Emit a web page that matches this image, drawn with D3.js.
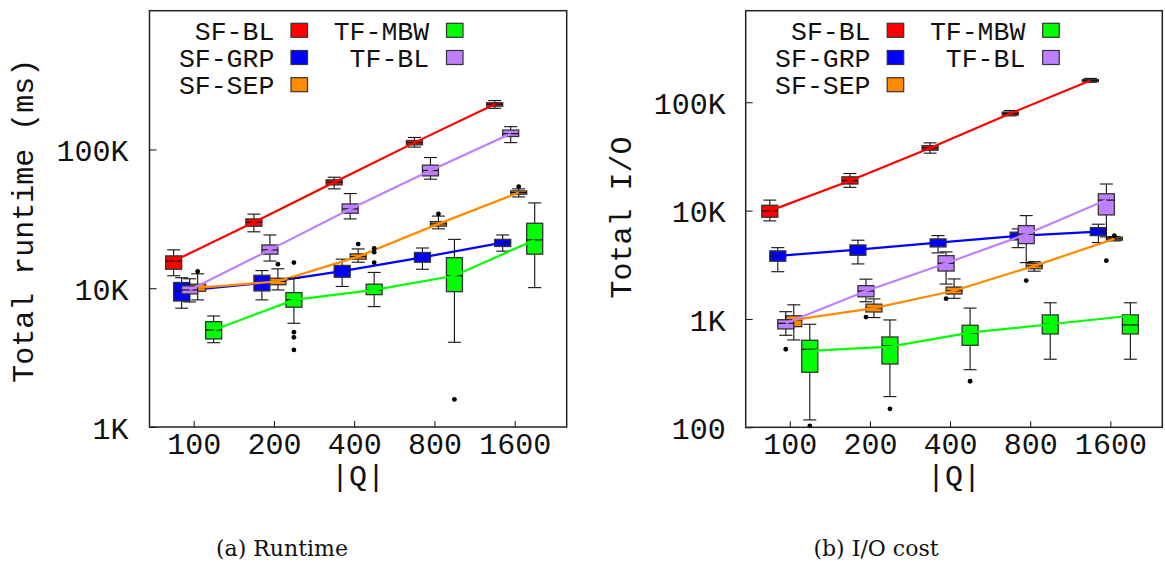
<!DOCTYPE html>
<html><head><meta charset="utf-8">
<script src="https://cdn.jsdelivr.net/npm/d3@7"></script>
<style>body{margin:0;background:#fff}</style>
</head><body><svg id="c" width="1165" height="567"></svg>
<script>
// ---------- data ----------
const categories = [100, 200, 400, 800, 1600];
const seriesNames = ["SF-BL", "SF-GRP", "SF-SEP", "TF-MBW", "TF-BL"];
const seriesColors = ["#ff0000", "#0000ff", "#ff8c00", "#00ff00", "#bf80ff"];

// Runtime (ms): [whiskerLow, q1, median, q3, whiskerHigh] per |Q|
const rtSFBL  = [[12300,13700,15700,17100,18900],[25500,28000,29900,31600,34200],[52000,55600,58100,60400,63100],[104000,108000,112000,116000,122000],[198000,205000,212000,217000,225000]];
const rtSFGRP = [[7180,8090,9560,11000,11900],[8240,9560,10900,12400,13400],[10300,12000,13300,14600,16200],[13700,15400,16700,18100,19500],[18500,20000,21300,22500,24200]];
const rtSFSEP = [[8240,9510,10050,10700,12700],[9720,10600,11200,11800,13800],[15400,16200,16900,17700,19200],[26800,28000,29100,30200,33100],[45500,47600,48900,50300,52000]];
const rtTFMBW = [[4050,4310,5000,5740,6310],[5590,7300,8240,9300,11800],[7370,8990,9720,10700,13000],[4080,9450,12300,16600,22500],[10100,17600,22300,29400,41200]];
const rtTFBL  = [[7960,9100,9720,10400,11700],[15700,17600,18900,20500,24200],[31600,34700,37300,40500,48100],[61100,64500,70500,77100,87500],[112000,124000,130000,138000,146000]];
const rtOutliers = [["SF-SEP",100,13200],["SF-SEP",200,14900],["SF-SEP",400,20800],["SF-SEP",800,34300],["SF-SEP",1600,54000],
  ["TF-MBW",200,15300],["TF-MBW",200,4820],["TF-MBW",200,4430],["TF-MBW",200,3590],
  ["TF-MBW",400,19400],["TF-MBW",400,18200],["TF-MBW",400,15300],["TF-MBW",800,1580]];

// Total I/O
const ioSFBL  = [[8040,8690,9940,11200,12500],[16400,17600,18900,20500,22000],[33900,36100,37900,39800,42200],[74900,76100,78700,81100,83800],[153000,155000,159000,162000,166000]];
const ioSFGRP = [[2730,3410,3820,4250,4550],[3220,3870,4360,4820,5330],[4070,4620,5060,5480,5880],[4550,5360,5840,6320,6780],[5070,5880,6400,6970,7490]];
const ioSFSEP = [[640,849,979,1070,1350],[1030,1160,1260,1370,1530],[1550,1700,1820,1970,2340],[2760,2910,3090,3270,3380],[5250,5330,5480,5680,5750]];
const ioTFMBW = [[117,322,525,636,893],[192,384,567,682,979],[340,571,738,875,1260],[425,727,893,1090,1410],[425,727,881,1090,1410]];
const ioTFBL  = [[707,809,912,985,1167],[1440,1600,1810,2030,2330],[2100,2770,3270,3840,4160],[3310,4960,6050,7270,8990],[5720,9120,12500,14300,17600]];
const ioTFMBWLine = [507, 555, 747, 893, 1070];
const ioOutliers = [["TF-BL",100,525],["TF-BL",200,1040],["TF-BL",400,1540],["TF-BL",800,2260],["TF-BL",1600,3450],
  ["SF-SEP",1600,5880],["TF-MBW",100,103],["TF-MBW",200,148],["TF-MBW",400,266]];

const rtTicks = [1000, 10000, 100000];
const rtTickLabels = ["1K", "10K", "100K"];
const ioTicks = [100, 1000, 10000, 100000];
const ioTickLabels = ["100", "1K", "10K", "100K"];

// ---------- drawing ----------
const svg = d3.select("#c");
const MONO = "'Liberation Mono', 'Courier New', monospace";
const offsets = [-20, -12, 4, 20, -4];

function panel(cfg) {
  const {L, R, T, B} = cfg;
  const g = svg.append("g");
  const x = d3.scaleLog().base(2).domain([68.3, 2507]).range([L, R]);
  const y = d3.scaleLog().domain(cfg.yDomain).range([B, T]);

  // y axis
  g.append("g").attr("transform", `translate(${L},0)`)
    .call(d3.axisLeft(y).tickValues(cfg.ticks).tickFormat((d, i) => cfg.tickLabels[i])
      .tickSizeInner(-7).tickSizeOuter(0).tickPadding(cfg.ypad))
    .call(a => {
      a.select(".domain").remove();
      a.attr("font-family", MONO).attr("font-size", 30).attr("color", "#111");
      a.selectAll("text").attr("dy", "0.37em");
    });
  // x axis
  g.append("g").attr("transform", `translate(0,${B})`)
    .call(d3.axisBottom(x).tickValues(categories).tickFormat(d3.format("d"))
      .tickSizeInner(-6).tickSizeOuter(0))
    .call(a => {
      a.select(".domain").remove();
      a.attr("font-family", MONO).attr("font-size", 30).attr("color", "#111");
      a.selectAll("text").attr("y", 27).attr("dy", 0);
    });

  // series
  cfg.stats.forEach((st, si) => {
    const col = seriesColors[si], off = offsets[si];
    const cx = i => x(categories[i]) + off;
    const sg = g.append("g");
    st.forEach((s, i) => {
      const c = cx(i);
      sg.append("line").attr("x1", c).attr("x2", c).attr("y1", y(s[0])).attr("y2", y(s[4]))
        .attr("stroke", "#111").attr("stroke-width", 1.1);
      [s[0], s[4]].forEach(v => sg.append("line").attr("x1", c - 6.5).attr("x2", c + 6.5)
        .attr("y1", y(v)).attr("y2", y(v)).attr("stroke", "#111").attr("stroke-width", 1.1));
      sg.append("rect").attr("x", c - 8).attr("width", 16)
        .attr("y", y(s[3])).attr("height", Math.max(1, y(s[1]) - y(s[3])))
        .attr("fill", col).attr("stroke", "#333").attr("stroke-width", 1.3);
      sg.append("line").attr("x1", c - 8).attr("x2", c + 8).attr("y1", y(s[2])).attr("y2", y(s[2]))
        .attr("stroke", "#111").attr("stroke-width", 1.2);
    });
    const lv = (cfg.lines && cfg.lines[si]) || st.map(s => s[2]);
    sg.append("path").datum(lv)
      .attr("d", d3.line().x((v, i) => cx(i)).y(v => y(v)))
      .attr("fill", "none").attr("stroke", col).attr("stroke-width", 2.2);
    cfg.outliers.filter(o => o[0] === seriesNames[si]).forEach(o => {
      sg.append("circle").attr("cx", x(o[1]) + off).attr("cy", y(o[2])).attr("r", 2.4).attr("fill", "#000");
    });
  });

  // frame
  g.append("rect").attr("x", L).attr("y", T).attr("width", R - L).attr("height", B - T)
    .attr("fill", "none").attr("stroke", "#222").attr("stroke-width", 1.5);

  // legend
  seriesNames.forEach((n, si) => {
    const colIdx = si < 3 ? 0 : 1, row = si < 3 ? si : si - 3;
    const textEnd = L + (colIdx === 0 ? 124.8 : 279.6);
    const sx = L + (colIdx === 0 ? 141.5 : 297);
    const sy = 23.3 + row * 27.2;
    g.append("text").attr("x", textEnd).attr("y", sy + 16.5).attr("text-anchor", "end")
      .attr("font-family", MONO).attr("font-size", 26.5).attr("fill", "#111").text(n);
    g.append("rect").attr("x", sx).attr("y", sy).attr("width", 16.5).attr("height", 14)
      .attr("fill", seriesColors[si]).attr("stroke", "#333").attr("stroke-width", 1.2);
  });

  // axis titles
  g.append("text").attr("transform", `translate(${cfg.ylabX},${cfg.ylabY}) rotate(-90)`)
    .attr("text-anchor", "middle").attr("font-family", MONO).attr("font-size", 30).attr("fill", "#111")
    .text(cfg.ylabel);
  g.append("text").attr("x", (L + R) / 2).attr("y", 486).attr("text-anchor", "middle")
    .attr("font-family", MONO).attr("font-size", 30).attr("fill", "#111").text("|Q|");
  g.append("text").attr("x", cfg.capX).attr("y", 556).attr("text-anchor", "middle")
    .attr("font-family", "'DejaVu Serif', 'Liberation Serif', serif").attr("font-size", 22).attr("fill", "#111")
    .text(cfg.caption);
}

panel({L: 149.5, R: 566.7, T: 10.7, B: 427, yDomain: [1000, 1e6], ticks: rtTicks, tickLabels: rtTickLabels,
  ypad: 21, stats: [rtSFBL, rtSFGRP, rtSFSEP, rtTFMBW, rtTFBL], outliers: rtOutliers,
  ylabel: "Total runtime (ms)", ylabX: 32.5, ylabY: 220.8, caption: "(a) Runtime", capX: 282});
panel({L: 745.7, R: 1162.3, T: 10.7, B: 427.3, yDomain: [100, 700000], ticks: ioTicks, tickLabels: ioTickLabels,
  ypad: 20, stats: [ioSFBL, ioSFGRP, ioSFSEP, ioTFMBW, ioTFBL], outliers: ioOutliers,
  lines: [null, null, null, ioTFMBWLine, null],
  ylabel: "Total I/O", ylabX: 630.5, ylabY: 217.5, caption: "(b) I/O cost", capX: 876});
</script></body></html>
